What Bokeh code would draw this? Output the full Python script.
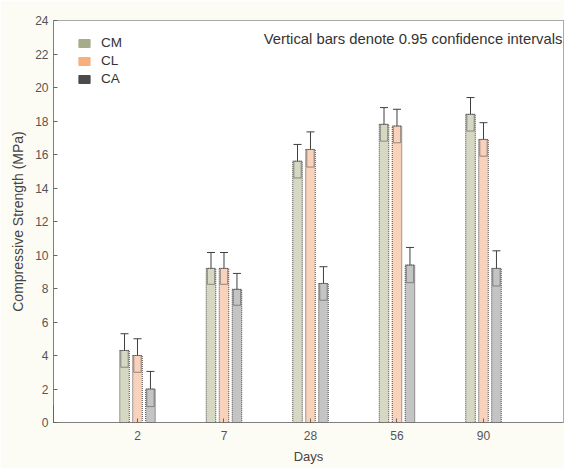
from bokeh.plotting import figure
from bokeh.models import (ColumnDataSource, Range1d, FixedTicker, Whisker, TeeHead,
                          Legend, LegendItem, Label)
from bokeh.embed import file_html
from bokeh.resources import INLINE

# Compressive strength by curing age, three mixes, with 0.95 CI half-widths
days = ["2", "7", "28", "56", "90"]
cm_mean = [4.3, 9.2, 15.6, 17.8, 18.4]
cl_mean = [4.0, 9.2, 16.3, 17.7, 16.9]
ca_mean = [2.0, 7.95, 8.3, 9.4, 9.2]
cm_ci = [1.0, 0.95, 1.0, 1.0, 1.0]
cl_ci = [1.0, 0.95, 1.05, 1.0, 1.0]
ca_ci = [1.05, 0.95, 1.0, 1.05, 1.05]
y_ticks = list(range(0, 25, 2))

series = [
    ("CM", cm_mean, cm_ci, -0.15, "#d6d8c4", "#a8ab8a"),
    ("CL", cl_mean, cl_ci, 0.0, "#f8d2bb", "#f5b07e"),
    ("CA", ca_mean, ca_ci, 0.15, "#c4c4c4", "#4a4a4a"),
]

FONT = "Liberation Sans"

p = figure(width=564, height=468, output_backend="svg", toolbar_location=None,
           x_range=Range1d(0.029, 5.925), y_range=Range1d(0, 24),
           min_border_left=53, min_border_right=1, min_border_top=20,
           min_border_bottom=46)
p.background_fill_color = "white"
p.border_fill_color = "#fdfcf4"
p.grid.visible = False
p.outline_line_color = "#555555"
p.outline_line_dash = "1 1"
p.outline_line_width = 1

legend_items = []
for name, means, cis, off, fill, key_color in series:
    xs = [i + 1 + off for i in range(len(days))]
    src = ColumnDataSource(dict(
        x=xs, top=means,
        upper=[m + c for m, c in zip(means, cis)],
        lower=[m - c for m, c in zip(means, cis)],
    ))
    p.vbar(x="x", top="top", width=0.11, bottom=0, source=src,
           fill_color=fill, line_color="#444444", line_dash="1 1", line_width=1)
    # darker band between the lower CI limit and the mean
    p.vbar(x="x", top="top", bottom="lower", width=0.085, source=src,
           fill_color=None, line_color="#555555", line_width=1, line_alpha=0.6)
    p.add_layout(Whisker(base="x", upper="upper", lower="lower", source=src,
                         line_color="#3f3f3f", line_width=1,
                         upper_head=TeeHead(size=8, line_color="#3f3f3f"),
                         lower_head=TeeHead(size=8, line_color="#3f3f3f")))
    # off-range swatch renderer used only for the legend key
    key = p.vbar(x=[-5], top=[1], width=0.1, fill_color=key_color,
                 line_color=key_color)
    legend_items.append(LegendItem(label=name, renderers=[key]))

legend = Legend(items=legend_items, location=(24, 336), orientation="vertical",
                border_line_color=None, background_fill_alpha=0,
                padding=0, margin=0, spacing=3, label_standoff=10,
                glyph_width=14, glyph_height=10, label_height=10,
                label_text_font=FONT, label_text_font_size="13.5px",
                label_text_color="#333333")
p.add_layout(legend, "center")

p.add_layout(Label(x=2.46, y=22.9, text="Vertical bars denote 0.95 confidence intervals",
                   text_font=FONT, text_font_size="14.8px", text_color="#333333",
                   text_baseline="middle", text_align="left"))

# Axes
p.xaxis.ticker = FixedTicker(ticks=[1, 2, 3, 4, 5])
p.xaxis.major_label_overrides = {i + 1: d for i, d in enumerate(days)}
p.yaxis.ticker = FixedTicker(ticks=y_ticks)
for ax in (p.xaxis, p.yaxis):
    ax.axis_line_color = "#555555"
    ax.axis_line_dash = "1 1"
    ax.major_tick_in = 4
    ax.major_tick_out = 0
    ax.minor_tick_line_color = None
    ax.major_tick_line_color = "#666666"
    ax.major_label_text_font = FONT
    ax.major_label_text_font_size = "12px"
    ax.major_label_text_color = "#555555"
    ax.axis_label_text_font = FONT
    ax.axis_label_text_font_style = "normal"
    ax.axis_label_text_color = "#444444"
p.xaxis.axis_label = "Days"
p.yaxis.axis_label = "Compressive Strength (MPa)"
p.xaxis.axis_label_text_font_size = "13px"
p.yaxis.axis_label_text_font_size = "14px"
p.xaxis.major_label_standoff = 8
p.xaxis.axis_label_standoff = 6
p.yaxis.major_label_standoff = 5
p.yaxis.axis_label_standoff = 6

open("out.html", "w").write(file_html(p, INLINE))
